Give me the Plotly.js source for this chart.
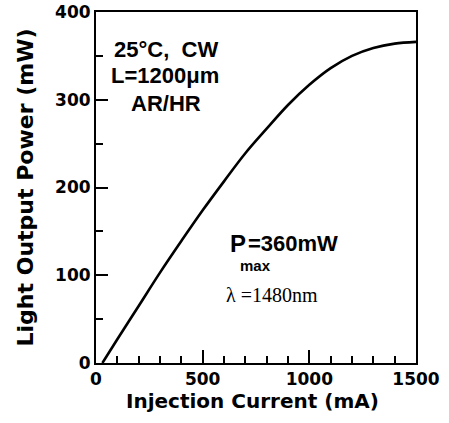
<!DOCTYPE html>
<html>
<head>
<meta charset="utf-8">
<script src="https://cdn.plot.ly/plotly-3.0.1.min.js"></script>
<style>html,body{margin:0;padding:0;background:#fff;}#chart{width:449px;height:423px;}</style>
</head>
<body>
<div id="chart"></div>
<script>
// Injection current (mA)
var currentMA = [30, 100, 200, 300, 400, 500, 600, 700, 800, 900, 1000, 1100, 1200, 1300, 1400, 1500];
// Light output power (mW)
var powerMW = [0, 27, 65, 103, 139, 174, 207, 239, 267, 294, 317, 336, 350, 359, 364, 366];
var xTickStep = 500, xMinorStep = 100;
var yTickStep = 100, yMinorStep = 50;
var xTitle = 'Injection Current (mA)';
var yTitle = 'Light Output Power (mW)';

var tickFont = {family: 'DejaVu Sans', size: 17, color: '#000', weight: 'bold'};
var sansBold = {family: 'Liberation Sans, Arial', size: 22, color: '#000', weight: 'bold'};

var trace = {
  x: currentMA, y: powerMW, type: 'scatter', mode: 'lines',
  line: {color: '#000', width: 2.6, shape: 'spline', smoothing: 1},
  hoverinfo: 'none'
};

var layout = {
  width: 449, height: 423,
  margin: {l: 96, r: 33, t: 12, b: 60},
  paper_bgcolor: '#fff', plot_bgcolor: '#fff',
  showlegend: false,
  xaxis: {
    range: [0, 1500], tickmode: 'linear', tick0: 0, dtick: xTickStep,
    ticks: 'inside', ticklen: 13, tickwidth: 2, tickcolor: '#000',
    minor: {dtick: xMinorStep, ticks: 'inside', ticklen: 7, tickwidth: 2, tickcolor: '#000'},
    showline: true, linecolor: '#000', linewidth: 2, mirror: true,
    showgrid: false, zeroline: false, tickfont: tickFont,
    automargin: false
  },
  yaxis: {
    range: [0, 400], tickmode: 'linear', tick0: 0, dtick: yTickStep,
    ticks: 'inside', ticklen: 12, tickwidth: 2, tickcolor: '#000',
    minor: {dtick: yMinorStep, ticks: 'inside', ticklen: 7, tickwidth: 2, tickcolor: '#000'},
    showline: true, linecolor: '#000', linewidth: 2, mirror: true,
    showgrid: false, zeroline: false, tickfont: tickFont,
    title: {text: yTitle, font: {family: 'DejaVu Sans', size: 22, color: '#000', weight: 'bold'}, standoff: 15},
    automargin: false
  },
  annotations: [
    {xref: 'paper', yref: 'paper', x: (252.5 - 96) / 320, y: (363 - 400.5) / 351, text: xTitle, showarrow: false, font: {family: 'DejaVu Sans', size: 20, color: '#000', weight: 'bold'}, xanchor: 'center', yanchor: 'middle'},
    {xref: 'paper', yref: 'paper', x: (166 - 96) / 320, y: (363 - 49.5) / 351, text: '25°C,\u00a0 CW', showarrow: false, font: sansBold, xanchor: 'center', yanchor: 'middle'},
    {xref: 'paper', yref: 'paper', x: (165 - 96) / 320, y: (363 - 75) / 351, text: 'L=1200μm', showarrow: false, font: sansBold, xanchor: 'center', yanchor: 'middle'},
    {xref: 'paper', yref: 'paper', x: (166 - 96) / 320, y: (363 - 103) / 351, text: 'AR/HR', showarrow: false, font: sansBold, xanchor: 'center', yanchor: 'middle'},
    {xref: 'paper', yref: 'paper', x: (237.5 - 96) / 320, y: (363 - 243) / 351, text: 'P', showarrow: false, font: {family: 'Liberation Sans, Arial', size: 24, color: '#000', weight: 'bold'}, xanchor: 'center', yanchor: 'middle'},
    {xref: 'paper', yref: 'paper', x: (246 - 96) / 320, y: (363 - 243) / 351, text: '=360mW', showarrow: false, font: sansBold, xanchor: 'left', yanchor: 'middle'},
    {xref: 'paper', yref: 'paper', x: (255 - 96) / 320, y: (363 - 265) / 351, text: 'max', showarrow: false, font: {family: 'Liberation Sans, Arial', size: 15, color: '#000', weight: 'bold'}, xanchor: 'center', yanchor: 'middle'},
    {xref: 'paper', yref: 'paper', x: (224 - 96) / 320, y: (363 - 295) / 351, text: 'λ =1480nm', showarrow: false, font: {family: 'Liberation Serif, Times New Roman', size: 20, color: '#000'}, xanchor: 'left', yanchor: 'middle'}
  ]
};

Plotly.newPlot('chart', [trace], layout, {staticPlot: true, displayModeBar: false});
</script>
</body>
</html>
